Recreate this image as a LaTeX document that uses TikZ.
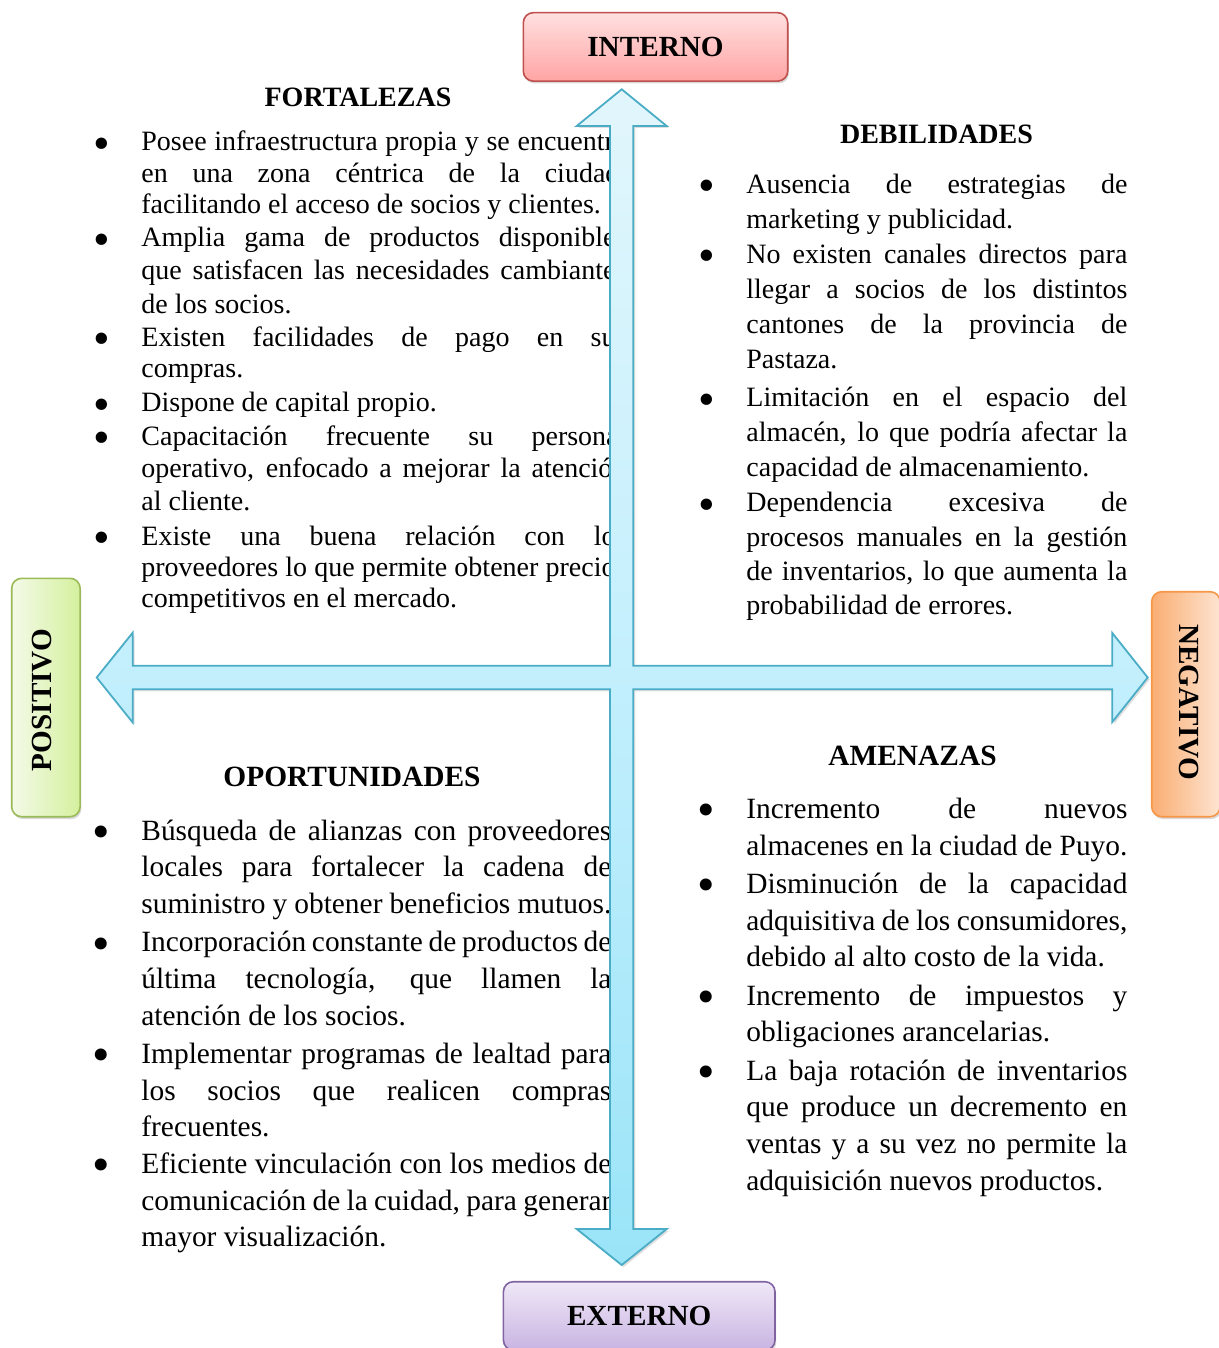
\documentclass[tikz,border=0pt]{standalone}
\usepackage{fontspec}
\setmainfont{Liberation Serif}
\usepackage{graphicx}
\usepackage{tikz}
\usetikzlibrary{shadows}
\definecolor{arrowline}{HTML}{4BACC6}
\definecolor{arrowtop}{HTML}{E2F6FC}
\definecolor{arrowmid}{HTML}{C3EFFD}
\definecolor{arrowbot}{HTML}{9AE4F8}
\definecolor{internoline}{HTML}{C0504D}
\definecolor{internotop}{HTML}{FFE0E0}
\definecolor{internobot}{HTML}{FFA4A4}
\definecolor{externoline}{HTML}{8064A2}
\definecolor{externotop}{HTML}{EFE8F7}
\definecolor{externobot}{HTML}{C9B4E2}
\definecolor{positivoline}{HTML}{9BBB59}
\definecolor{positivoleft}{HTML}{F4FAE8}
\definecolor{positivoright}{HTML}{D4F09E}
\definecolor{negativoline}{HTML}{F79646}
\definecolor{negativoleft}{HTML}{FAAE73}
\definecolor{negativoright}{HTML}{FDE4D1}
\newcommand{\swotbul}{\llap{\smash{\raisebox{-4.2pt}{\scalebox{1.7}{\textbullet}}}\hspace{15.8pt}}}
\tolerance=10000
\hyphenpenalty=10000
\exhyphenpenalty=10000

\begin{document}
\begin{tikzpicture}[
    x=0.5pt, y=-0.5pt,
    heading/.style={font=\fontsize{14}{16}\selectfont\bfseries, anchor=base, inner sep=0pt},
    entry/.style={anchor=base west, inner sep=0pt, align=justify, text width=#1},
    fort/.style={entry=242.5pt, font=\fontsize{14}{15.6}\selectfont},
    debil/.style={entry=190.5pt, font=\fontsize{14}{17.5}\selectfont},
    oport/.style={entry=235pt, font=\fontsize{14.7}{18.35}\selectfont},
    amen/.style={entry=190.5pt, font=\fontsize{14.7}{18.35}\selectfont},
    labelbox/.style={draw, line width=0.8pt, rounded corners=5pt, font=\fontsize{14.6}{16}\selectfont\bfseries,
        drop shadow={shadow xshift=0.6pt, shadow yshift=-1.2pt, opacity=0.3}},
    labeltext/.style={font=\fontsize{14.6}{16}\selectfont\bfseries, inner sep=0pt},
    crossarrow/.style={draw=arrowline, line width=0.9pt, line join=miter, top color=arrowtop, bottom color=arrowbot, middle color=arrowmid,
        drop shadow={shadow xshift=1pt, shadow yshift=-1pt, opacity=0.25}}
]
    \useasboundingbox (0,0) rectangle (1219,1348);

    % Fortalezas
    \node[heading] (fortalezas) at (358,106.7) {FORTALEZAS};
    \node[fort] (fort1) at (141,151) {\swotbul Posee infraestructura propia y se encuentra\linebreak en una zona céntrica de la ciudad,\linebreak facilitando el acceso de socios y clientes.};
    \node[fort, font=\fontsize{14}{16.6}\selectfont] (fort2) at (141,246.7) {\swotbul Amplia gama de productos disponibles\linebreak que satisfacen las necesidades cambiantes\linebreak de los socios.};
    \node[fort] (fort3) at (141,346) {\swotbul Existen facilidades de pago en sus\linebreak compras.};
    \node[fort] (fort4) at (141,411.7) {\swotbul Dispone de capital propio.};
    \node[fort, font=\fontsize{14}{16.3}\selectfont] (fort5) at (141,445) {\swotbul Capacitación frecuente su personal\linebreak operativo, enfocado a mejorar la atención\linebreak al cliente.};
    \node[fort] (fort6) at (141,545) {\swotbul Existe una buena relación con los\linebreak proveedores lo que permite obtener precios\linebreak competitivos en el mercado.};

    % Debilidades
    \node[heading] (debilidades) at (936.5,143.3) {DEBILIDADES};
    \node[debil] (debil1) at (746,193.3) {\swotbul Ausencia de estrategias de\linebreak marketing y publicidad.};
    \node[debil] (debil2) at (746,263.3) {\swotbul No existen canales directos para\linebreak llegar a socios de los distintos\linebreak cantones de la provincia de\linebreak Pastaza.};
    \node[debil] (debil3) at (746,406.7) {\swotbul Limitación en el espacio del\linebreak almacén, lo que podría afectar la\linebreak capacidad de almacenamiento.};
    \node[debil, font=\fontsize{14}{17.2}\selectfont] (debil4) at (746,511.7) {\swotbul Dependencia excesiva de\linebreak procesos manuales en la gestión\linebreak de inventarios, lo que aumenta la\linebreak probabilidad de errores.};

    % Oportunidades
    \node[heading, font=\fontsize{14.7}{16}\selectfont\bfseries] (oportunidades) at (352,786.7) {OPORTUNIDADES};
    \node[oport] (oport1) at (141,840) {\swotbul Búsqueda de alianzas con proveedores\linebreak locales para fortalecer la cadena de\linebreak suministro y obtener beneficios mutuos.};
    \node[oport] (oport2) at (141,951.7) {\swotbul Incorporación constante de productos de\linebreak última tecnología, que llamen la\linebreak atención de los socios.};
    \node[oport] (oport3) at (141,1063.3) {\swotbul Implementar programas de lealtad para\linebreak los socios que realicen compras\linebreak frecuentes.};
    \node[oport] (oport4) at (141,1173.3) {\swotbul Eficiente vinculación con los medios de\linebreak comunicación de la cuidad, para generar\linebreak mayor visualización.};

    % Amenazas
    \node[heading, font=\fontsize{14.7}{16}\selectfont\bfseries] (amenazas) at (912.5,765) {AMENAZAS};
    \node[amen] (amen1) at (746,818.3) {\swotbul Incremento de nuevos\linebreak almacenes en la ciudad de Puyo.};
    \node[amen] (amen2) at (746,893.3) {\swotbul Disminución de la capacidad\linebreak adquisitiva de los consumidores,\linebreak debido al alto costo de la vida.};
    \node[amen] (amen3) at (746,1005) {\swotbul Incremento de impuestos y\linebreak obligaciones arancelarias.};
    \node[amen] (amen4) at (746,1080) {\swotbul La baja rotación de inventarios\linebreak que produce un decremento en\linebreak ventas y a su vez no permite la\linebreak adquisición nuevos productos.};

    % Cross of arrows
    \draw[crossarrow] (621.7,89.3) -- (666.7,126) -- (633.3,126) -- (633.3,665.7)
        -- (1112.3,665.7) -- (1112.3,633) -- (1147.7,677.5) -- (1112.3,722) -- (1112.3,689.3)
        -- (633.3,689.3) -- (633.3,1229) -- (666.7,1229) -- (621.7,1265) -- (576.7,1229)
        -- (610,1229) -- (610,689.3) -- (132.7,689.3) -- (132.7,722.5) -- (96.7,677.5)
        -- (132.7,632.7) -- (132.7,665.7) -- (610,665.7) -- (610,126) -- (576.7,126) -- cycle;

    % Axis labels
    \node[labelbox, draw=internoline, top color=internotop, bottom color=internobot,
        minimum width=132.2pt, minimum height=34.2pt] (interno) at (655.5,46.9) {INTERNO};
    \node[labelbox, draw=externoline, top color=externotop, bottom color=externobot,
        minimum width=135.8pt, minimum height=34.2pt] (externo) at (639.2,1315.9) {EXTERNO};
    \node[labelbox, draw=positivoline, left color=positivoleft, right color=positivoright,
        minimum width=34.2pt, minimum height=119.2pt] (positivo) at (45.9,697.5) {};
    \node[labeltext, rotate=90] (positivotext) at (42,700) {POSITIVO};
    \node[labelbox, draw=negativoline, left color=negativoleft, right color=negativoright,
        minimum width=34.2pt, minimum height=112.5pt] (negativo) at (1185.9,704.2) {};
    \node[labeltext, rotate=-90] (negativotext) at (1189,702.5) {NEGATIVO};

\end{tikzpicture}
\end{document}
